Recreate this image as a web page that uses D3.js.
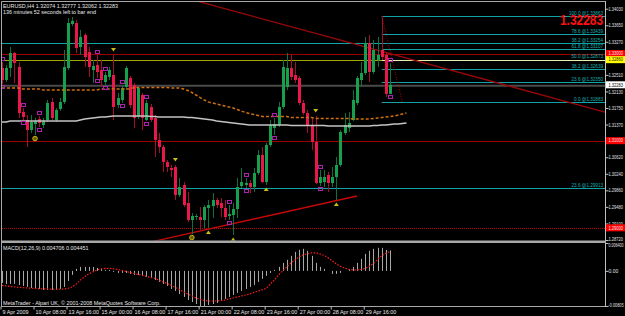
<!DOCTYPE html>
<html><head><meta charset="utf-8">
<script src="https://cdn.jsdelivr.net/npm/d3@7"></script>
<style>
html,body{margin:0;padding:0;background:#000;}
svg{display:block;}
text{font-family:"Liberation Sans",Arial,sans-serif;}
</style></head><body>
<svg id="c" width="625" height="316"></svg>
<script>
// ---------------- DATA ----------------
const symbolTitle = "EURUSD,H4  1.32074 1.32777 1.32062 1.32283";
const timerText = "136 minutes 52 seconds left to bar end";
const macdTitle = "MACD(12,26,9) 0.004706 0.004451";
const footerText = "MetaTrader - Alpari UK, \u00a9 2001-2008 MetaQuotes Software Corp.";
const lastPriceText = "1.32283";

const opens = [1.32669,1.32393,1.32669,1.33013,1.32692,1.31659,1.31475,1.31245,1.31383,1.31498,
1.31360,1.31475,1.31888,1.31475,1.31727,1.31888,1.32669,1.33679,1.33702,1.33151,
1.33426,1.33036,1.32623,1.32738,1.32623,1.32347,1.32462,1.32508,1.31819,1.31934,
1.32233,1.32439,1.32278,1.31544,1.32049,1.31475,1.31773,1.31521,1.31016,1.30855,
1.30511,1.30373,1.30396,1.29753,1.29982,1.29569,1.29179,1.29248,1.29248,1.29179,
1.29454,1.29500,1.29638,1.29569,1.29454,1.29271,1.29294,1.29431,1.29959,1.29982,
1.30028,1.29937,1.30258,1.30671,1.30051,1.30901,1.31291,1.31360,1.31773,1.32233,
1.32669,1.32508,1.32439,1.31865,1.31636,1.31360,1.30970,1.30028,1.30051,1.30212,
1.30028,1.30166,1.30442,1.31176,1.31291,1.31475,1.31865,1.32393,1.32554,1.33243,
1.32577,1.32852,1.33082,1.32967,1.32074];
const highs = [1.32807,1.32738,1.33151,1.33036,1.32807,1.31750,1.31590,1.31590,1.31521,1.31567,
1.31521,1.31934,1.31980,1.31750,1.31980,1.33082,1.33817,1.33840,1.33771,1.33541,
1.33472,1.33151,1.32852,1.32967,1.32852,1.32577,1.32692,1.32967,1.32095,1.32278,
1.32715,1.32485,1.32324,1.32255,1.32095,1.31934,1.31842,1.31590,1.31176,1.30901,
1.30556,1.30442,1.30442,1.30143,1.30051,1.29822,1.29340,1.29317,1.29477,1.29523,
1.29638,1.29799,1.29684,1.29684,1.29638,1.29523,1.29569,1.30143,1.30373,1.30143,
1.30097,1.30373,1.30786,1.30855,1.30947,1.31475,1.31521,1.31888,1.32852,1.33013,
1.32967,1.32807,1.32485,1.31934,1.31704,1.31544,1.31567,1.30327,1.30327,1.30281,
1.30396,1.30625,1.31245,1.31636,1.31659,1.32164,1.32485,1.32807,1.33381,1.33426,
1.33312,1.33381,1.33863,1.33013,1.32777];
const lows = [1.32301,1.32347,1.32462,1.32324,1.31521,1.31475,1.30855,1.31176,1.31130,1.31314,
1.31291,1.31429,1.31475,1.31429,1.31681,1.31842,1.32623,1.33633,1.33013,1.32967,
1.32692,1.32462,1.32324,1.32439,1.32233,1.32278,1.32393,1.31475,1.31750,1.31865,
1.32164,1.31750,1.31291,1.31498,1.31245,1.31452,1.31429,1.30625,1.30717,1.30281,
1.30281,1.30166,1.29638,1.29707,1.29477,1.29133,1.28857,1.29179,1.28949,1.28995,
1.28995,1.29225,1.29454,1.29248,1.29179,1.29179,1.28834,1.29225,1.29914,1.29914,
1.29799,1.29822,1.30212,1.30028,1.29982,1.30855,1.31130,1.31314,1.31727,1.32164,
1.32393,1.32324,1.31819,1.31590,1.31176,1.30786,1.30005,1.29959,1.29937,1.29822,
1.29937,1.29638,1.30396,1.31130,1.31199,1.31452,1.31819,1.32233,1.32508,1.32347,
1.32531,1.32692,1.32852,1.32003,1.32062];
const closes = [1.32393,1.32669,1.33013,1.32784,1.31636,1.31544,1.31245,1.31429,1.31452,1.31406,
1.31452,1.31865,1.31521,1.31704,1.31888,1.32692,1.33702,1.33748,1.33128,1.33381,
1.32921,1.32692,1.32715,1.32577,1.32393,1.32508,1.32623,1.31773,1.31980,1.32210,
1.32669,1.31819,1.31521,1.32210,1.31521,1.31865,1.31475,1.31016,1.30855,1.30511,
1.30396,1.30327,1.29753,1.29937,1.29523,1.29179,1.29271,1.29271,1.29179,1.29477,
1.29523,1.29638,1.29523,1.29454,1.29248,1.29317,1.29431,1.29937,1.30051,1.30028,
1.29937,1.30258,1.30671,1.30051,1.30901,1.31360,1.31383,1.31773,1.32692,1.32669,
1.32462,1.32393,1.31865,1.31636,1.31360,1.30970,1.30028,1.30166,1.30166,1.30028,
1.30166,1.30442,1.31199,1.31360,1.31406,1.31934,1.32439,1.32554,1.33243,1.32577,
1.33082,1.32967,1.32921,1.32074,1.32283];

// moving averages (shifted forward, so 99 points)
const maWhite = [1.31429,1.31429,1.31452,1.31452,1.31452,1.31452,1.31452,1.31452,1.31452,1.31452,
1.31452,1.31452,1.31452,1.31452,1.31452,1.31452,1.31452,1.31452,1.31452,1.31475,
1.31498,1.31509,1.31521,1.31532,1.31544,1.31544,1.31555,1.31567,1.31567,1.31567,
1.31567,1.31567,1.31567,1.31567,1.31567,1.31567,1.31555,1.31555,1.31544,1.31544,
1.31544,1.31544,1.31544,1.31544,1.31544,1.31532,1.31532,1.31521,1.31509,1.31498,
1.31486,1.31475,1.31452,1.31440,1.31429,1.31417,1.31406,1.31394,1.31383,1.31371,
1.31360,1.31360,1.31360,1.31360,1.31360,1.31360,1.31360,1.31360,1.31360,1.31360,
1.31349,1.31349,1.31349,1.31349,1.31349,1.31349,1.31349,1.31349,1.31349,1.31337,
1.31337,1.31337,1.31337,1.31337,1.31337,1.31337,1.31337,1.31337,1.31337,1.31337,
1.31349,1.31349,1.31360,1.31360,1.31371,1.31383,1.31383,1.31394,1.31406];
const maOrange = [1.32210,1.32210,1.32210,1.32210,1.32210,1.32187,1.32187,1.32187,1.32187,1.32187,
1.32164,1.32164,1.32164,1.32164,1.32164,1.32164,1.32164,1.32164,1.32164,1.32164,
1.32164,1.32164,1.32164,1.32164,1.32187,1.32187,1.32187,1.32187,1.32187,1.32187,
1.32187,1.32187,1.32221,1.32221,1.32221,1.32221,1.32221,1.32221,1.32221,1.32221,
1.32221,1.32210,1.32210,1.32210,1.32187,1.32152,1.32106,1.32049,1.31991,1.31934,
1.31888,1.31865,1.31842,1.31819,1.31796,1.31773,1.31750,1.31716,1.31681,1.31647,
1.31624,1.31601,1.31578,1.31555,1.31555,1.31555,1.31555,1.31555,1.31555,1.31555,
1.31532,1.31532,1.31532,1.31532,1.31532,1.31532,1.31509,1.31509,1.31509,1.31509,
1.31509,1.31509,1.31509,1.31509,1.31509,1.31498,1.31498,1.31498,1.31498,1.31498,
1.31509,1.31521,1.31532,1.31544,1.31555,1.31567,1.31590,1.31613,1.31636];

// MACD
const macdMain = [-0.00276,-0.00299,-0.00299,-0.00299,-0.00322,-0.00345,-0.00368,-0.00391,-0.00414,-0.00414,
-0.00437,-0.00437,-0.00437,-0.00437,-0.00414,-0.00368,-0.0023,-0.00092,0.00046,0.00092,
0.00092,0.00092,0.00092,0.00069,0.00046,0.00023,0.00023,-0.00023,-0.00046,-0.00046,
-0.00046,-0.00069,-0.00092,-0.00092,-0.00115,-0.00138,-0.00161,-0.00207,-0.00253,-0.00299,
-0.00345,-0.00414,-0.0046,-0.00529,-0.00598,-0.00667,-0.00713,-0.00759,-0.00805,-0.00805,
-0.00782,-0.00759,-0.00736,-0.0069,-0.00644,-0.00598,-0.00552,-0.00506,-0.0046,-0.00414,
-0.00368,-0.00322,-0.00253,-0.00184,-0.00115,-0.00046,0.00023,0.00092,0.00184,0.00253,
0.00345,0.00437,0.00483,0.00506,0.0046,0.00345,0.00184,0.00092,0.00046,0,
-0.00069,-0.00069,-0.00046,0,0.00046,0.00092,0.00184,0.00276,0.00391,0.0046,
0.00506,0.00529,0.00529,0.00483,0.004706];
const macdSignal = [-0.00334,-0.00345,-0.00357,-0.00368,-0.00375,-0.00382,-0.00391,-0.00396,-0.00403,-0.00407,
-0.00414,-0.00414,-0.00419,-0.00421,-0.00421,-0.00414,-0.00403,-0.00368,-0.00299,-0.00207,
-0.00138,-0.00069,-0.00023,0.00023,0.00046,0.00058,0.00058,0.00046,0.00035,0.00012,
-0.00012,-0.00035,-0.00058,-0.00081,-0.00104,-0.00127,-0.0015,-0.00173,-0.00207,-0.00253,
-0.00288,-0.00334,-0.0038,-0.00426,-0.00483,-0.00529,-0.00575,-0.00621,-0.00656,-0.00679,
-0.0069,-0.0069,-0.0069,-0.00679,-0.00667,-0.00644,-0.00621,-0.00598,-0.00575,-0.00552,
-0.00529,-0.00495,-0.0046,-0.00437,-0.00403,-0.00299,-0.00207,-0.00092,0,0.00092,
0.00184,0.00253,0.00322,0.00368,0.00391,0.00414,0.00414,0.00391,0.00357,0.00299,
0.0023,0.00161,0.00104,0.00069,0.00035,0.00023,0.00023,0.00035,0.00058,0.00104,
0.00173,0.00265,0.00345,0.00403,0.004451];

// axes
const priceTicks = [1.34030,1.33650,1.33270,1.32890,1.32510,1.32130,1.31750,1.31370,1.30990,1.30620,1.30240,1.29860,1.29480,1.29100,1.28720];
const macdTicks = [0.0064,0,-0.00805];
const macdTickLabels = ["0.006400","0.00","-0.00805"];
const timeTickBars = [0,8,16,24,32,40,48,56,64,72,80,88];
const timeLabels = ["9 Apr 2009","10 Apr 08:00","13 Apr 16:00","15 Apr 00:00","16 Apr 08:00","17 Apr 16:00","21 Apr 00:00","22 Apr 08:00","23 Apr 16:00","27 Apr 00:00","28 Apr 08:00","29 Apr 16:00"];

// horizontal levels & objects
const cyanLevels = [1.33254,1.29913];
const cyanLevelNames = ["38.2","23.6"];
const redLevels = [1.33000,1.31000];
const dottedRedLevels = [1.29000];
const yellowLevels = [1.32860];
const bidPrice = 1.32283;
const fibHigh = 1.33863, fibLow = 1.31883;
const fibLevels = [0,23.6,38.2,50,61.8,78.6,100];
const fibStartBar = 92, fibEndBar = 97;
const downTrend = [{bar:47, price:1.34211},{bar:93, price:1.33025}];
const upTrend = [{bar:37, price:1.28695},{bar:86, price:1.29730}];
const squareBars = [0,5,9,23,25,29,35,55,59,66,77,94];
const downArrowBars = [27,42,76];
const upArrowBars = [50,56,64,81];
const circleBars = [8,46];

// ---------------- DRAW ----------------
const W=625,H=316;
const L=2,R=605,T=2,B=241;
const FS=5.4, AFS=5.0;
const svg=d3.select('#c');
const xBar=d3.scaleLinear().domain([0,94]).range([2,390]);
const xTick=d3.scaleLinear().domain([0,94]).range([0.5,388.5]);
const yP=d3.scaleLinear().domain([1.28720,1.34030]).range([240,8.7]);
const yM=d3.scaleLinear().domain([-0.00805,0.0064]).range([306,243]);
const px = v => Math.round(v)+0.5;

svg.append('rect').attr('width',W).attr('height',H).attr('fill','#000');
const defs=svg.append('defs');
defs.append('clipPath').attr('id','cm').append('rect').attr('x',L).attr('y',T).attr('width',R-L).attr('height',B-T-0.5);
defs.append('clipPath').attr('id','cd').append('rect').attr('x',L).attr('y',243).attr('width',R-L).attr('height',64);

const gM=svg.append('g').attr('clip-path','url(#cm)');

function hline(p,color,w,dash,x1){
  const y=px(yP(p));
  const l=gM.append('line').attr('x1',x1===undefined?L:x1).attr('x2',R).attr('y1',y).attr('y2',y)
    .attr('stroke',color).attr('stroke-width',w);
  if(dash) l.attr('stroke-dasharray',dash);
}
cyanLevels.forEach(p=>hline(p,'#12a4a4',1));
redLevels.forEach(p=>hline(p,'#9a0000',1));
dottedRedLevels.forEach(p=>hline(p,'#c00000',1,'1,1'));
yellowLevels.forEach(p=>hline(p,'#a6a600',1));
yellowLevels.forEach(p=>hline(p,'#e6efb0',1,null,xBar(fibStartBar)));
// bid line
gM.append('line').attr('x1',L).attr('x2',R).attr('y1',yP(bidPrice)+1).attr('y2',yP(bidPrice)+1)
  .attr('stroke','#4a4a4a').attr('stroke-width',2);

// small fib
fibLevels.forEach(lv=>{
  const p=fibLow+(fibHigh-fibLow)*lv/100;
  if(lv!==50) hline(p,'#12a4a4',1,null,xBar(fibStartBar));
  gM.append('text').attr('x',603).attr('y',Math.round(yP(p))-1).attr('text-anchor','end')
    .attr('font-size',4.6).attr('fill','#18b0b0').text(lv.toFixed(1)+' @'+p.toFixed(5));
});
gM.append('line').attr('x1',xBar(fibStartBar)).attr('y1',yP(fibHigh)).attr('x2',xBar(fibEndBar)).attr('y2',yP(fibLow))
  .attr('stroke','#b00000').attr('stroke-width',1).attr('stroke-dasharray','1,1.5');
// big fib labels
cyanLevels.forEach((p,i)=>{
  gM.append('text').attr('x',603).attr('y',Math.round(yP(p))-1).attr('text-anchor','end')
    .attr('font-size',4.6).attr('fill','#18b0b0').text(cyanLevelNames[i]+' @'+p.toFixed(5));
});

// trendlines
function trend(a,b,color,w,extend){
  const x1=xBar(a.bar),y1=yP(a.price),x2=xBar(b.bar),y2=yP(b.price);
  const s=(y2-y1)/(x2-x1);
  let xa=x1,xb=x2;
  if(extend){xa=L-20;xb=R;}
  gM.append('line').attr('x1',xa).attr('y1',y1+(xa-x1)*s).attr('x2',xb).attr('y2',y1+(xb-x1)*s)
    .attr('stroke',color).attr('stroke-width',w);
}
trend(downTrend[0],downTrend[1],'#9c0808',1.3,true);
trend(upTrend[0],upTrend[1],'#c80808',1.3,false);

// candles
const gC=gM.append('g');
closes.forEach((c,i)=>{
  const o=opens[i],h=highs[i],l=lows[i];
  const up=c>=o;
  const x=Math.round(xBar(i));
  gC.append('line').attr('x1',x+0.5).attr('x2',x+0.5).attr('y1',yP(h)).attr('y2',yP(l))
    .attr('stroke',up?'#0d7040':'#a0102c').attr('stroke-width',1);
  const yt=Math.min(yP(o),yP(c)), hb=Math.max(1,Math.abs(yP(o)-yP(c)));
  gC.append('rect').attr('x',x-1).attr('y',yt).attr('width',3).attr('height',hb)
    .attr('fill',up?'#17a04c':'#e8184a');
});

// moving averages
const maLine=d3.line().x((d,i)=>xBar(i)).y(d=>yP(d));
gM.append('path').attr('d',maLine(maWhite)).attr('fill','none').attr('stroke','#c4c4c4').attr('stroke-width',1.6);
gM.append('path').attr('d',maLine(maOrange)).attr('fill','none').attr('stroke','#d07010').attr('stroke-width',1.5).attr('stroke-dasharray','3,2');

// markers
squareBars.forEach(i=>{
  const x=Math.round(xBar(i));
  [yP(highs[i])-3,yP(lows[i])+3].forEach(y=>{
    gM.append('rect').attr('x',x-1.5).attr('y',Math.round(y)-1.5).attr('width',4).attr('height',3)
      .attr('fill','none').attr('stroke','#b020b0').attr('stroke-width',1);
  });
});
downArrowBars.forEach(i=>{
  const x=xBar(i),y=yP(highs[i])-5;
  gM.append('path').attr('d',`M${x-2.5},${y-2}L${x+2.5},${y-2}L${x},${y+1.5}Z`).attr('fill','#c8bc10');
});
upArrowBars.forEach(i=>{
  const x=xBar(i),y=yP(lows[i])+4;
  gM.append('path').attr('d',`M${x-2.5},${y+2}L${x+2.5},${y+2}L${x},${y-1.5}Z`).attr('fill','#c8bc10');
});
circleBars.forEach(i=>{
  const x=xBar(i),y=yP(lows[i])+3.5;
  gM.append('circle').attr('cx',x).attr('cy',y).attr('r',2.3).attr('fill','#6a6000').attr('stroke','#c8b410').attr('stroke-width',1);
});

// big last price text
svg.append('text').attr('x',603).attr('y',25).attr('text-anchor','end').attr('font-size',15).attr('font-weight','bold')
  .attr('fill','#ff1010').attr('textLength',43).attr('lengthAdjust','spacingAndGlyphs').text(lastPriceText);

// MACD panel
const gD=svg.append('g').attr('clip-path','url(#cd)');
macdMain.forEach((v,i)=>{
  const x=px(xBar(i));
  gD.append('line').attr('x1',x).attr('x2',x).attr('y1',yM(0)).attr('y2',yM(v)).attr('stroke','#a8a8a8').attr('stroke-width',1);
});
const sigLine=d3.line().x((d,i)=>xBar(i)).y(d=>yM(d));
gD.append('path').attr('d',sigLine(macdSignal)).attr('fill','none').attr('stroke','#ff1a1a').attr('stroke-width',1.2).attr('stroke-dasharray','1.5,1.5');

// frames
const frame='#a8a8a8';
svg.append('line').attr('x1',1.5).attr('x2',606).attr('y1',1.5).attr('y2',1.5).attr('stroke',frame);
svg.append('line').attr('x1',1.5).attr('x2',1.5).attr('y1',1.5).attr('y2',307).attr('stroke',frame);
svg.append('rect').attr('x',1).attr('y',240.5).attr('width',605).attr('height',2.5).attr('fill',frame);
svg.append('line').attr('x1',1.5).attr('x2',606).attr('y1',306.5).attr('y2',306.5).attr('stroke',frame);

// price axis
const ax=svg.append('g').attr('transform','translate(605.5,0)')
  .call(d3.axisRight(yP).tickValues(priceTicks).tickSize(3).tickFormat(d3.format('.5f')));
ax.select('.domain').attr('stroke','#c0c0c0').attr('d','M0,1.5V241');
ax.selectAll('line').attr('stroke','#c0c0c0');
ax.selectAll('text').attr('x',3).attr('font-size',AFS).attr('fill','#e0e0e0')
  .attr('textLength',14.5).attr('lengthAdjust','spacingAndGlyphs')
  .attr('font-family','"Liberation Sans",Arial,sans-serif');
ax.selectAll('.tick').filter(d=>d===1.28720).select('text').attr('dy','0.1em');

// price label boxes
function box(p,bg,fg){
  const y=yP(p);
  svg.append('rect').attr('x',606).attr('y',y-3.5).attr('width',19).attr('height',7).attr('fill',bg);
  svg.append('text').attr('x',608.5).attr('y',y+1.8).attr('font-size',AFS).attr('fill',fg)
    .attr('textLength',14.5).attr('lengthAdjust','spacingAndGlyphs').text(p.toFixed(5));
}
redLevels.forEach(p=>box(p,'#ff0000','#ffe0e0'));
dottedRedLevels.forEach(p=>box(p,'#ff0000','#ffe0e0'));
yellowLevels.forEach(p=>box(p,'#ffff00','#202000'));
box(bidPrice,'#ffffff','#000000');

// MACD axis
const axm=svg.append('g').attr('transform','translate(605.5,0)')
  .call(d3.axisRight(yM).tickValues(macdTicks).tickSize(3).tickFormat((d,i)=>macdTickLabels[i]));
axm.select('.domain').attr('stroke','#c0c0c0').attr('d','M0,243V307');
axm.selectAll('line').attr('stroke','#c0c0c0');
axm.selectAll('text').attr('x',3).attr('font-size',AFS).attr('fill','#e0e0e0')
  .attr('font-family','"Liberation Sans",Arial,sans-serif');
axm.selectAll('.tick text').filter((d,i)=>macdTickLabels[i].length>5)
  .attr('textLength',15).attr('lengthAdjust','spacingAndGlyphs');
axm.selectAll('.tick').filter(d=>d===0.0064).select('text').attr('dy','0.75em');
axm.selectAll('.tick').filter(d=>d===-0.00805).select('text').attr('dy','0');

// time axis
const axt=svg.append('g').attr('transform','translate(0,306.5)')
  .call(d3.axisBottom(xTick).tickValues(timeTickBars).tickSize(3).tickFormat((d,i)=>timeLabels[i]));
axt.select('.domain').remove();
axt.selectAll('line').attr('stroke','#c0c0c0');
axt.selectAll('text').attr('text-anchor','start').attr('x',1.5).attr('y',7).attr('dy',0)
  .attr('font-size',FS).attr('fill','#e8e8e8').attr('font-family','"Liberation Sans",Arial,sans-serif');

// texts
function label(t,x,y){svg.append('text').attr('x',x).attr('y',y).attr('font-size',FS).attr('fill','#e8e8e8').text(t);}
label(symbolTitle,3,7.5);
label(timerText,3,13.5);
label(macdTitle,3,250);
label(footerText,3,304.5);
</script>
</body></html>
